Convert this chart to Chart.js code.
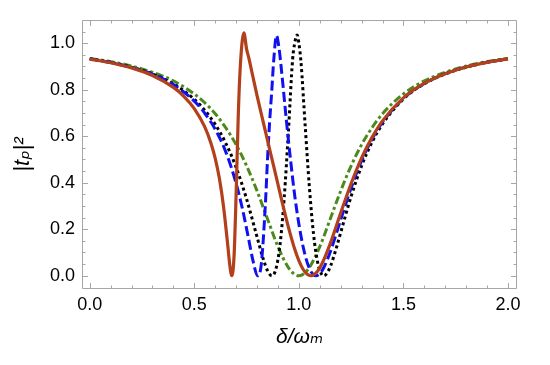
<!DOCTYPE html>
<html>
<head>
<meta charset="utf-8">
<script src="https://cdn.jsdelivr.net/npm/chart.js@4.4.1/dist/chart.umd.min.js"></script>
<style>
html,body{margin:0;padding:0;background:#fff;}
#wrap{width:550px;height:365px;}
</style>
</head>
<body>
<div id="wrap"><canvas id="c" width="550" height="365"></canvas></div>
<script>
// ---- data ----
const xTickLabels = [0.0, 0.5, 1.0, 1.5, 2.0];
const yTickLabels = [0.0, 0.2, 0.4, 0.6, 0.8, 1.0];

const greenX = [0,0.1,0.2,0.3,0.4,0.5,0.55,0.6,0.65,0.7,0.75,0.8,0.85,0.9,0.95,0.975,1.0,1.025,1.05,1.1,1.15,1.2,1.25,1.3,1.35,1.4,1.5,1.6,1.7,1.8,1.9,2.0];
const greenY = [0.935,0.921,0.902,0.875,0.838,0.782,0.744,0.697,0.637,0.564,0.473,0.365,0.244,0.125,0.035,0.009,0,0.009,0.035,0.125,0.244,0.365,0.473,0.564,0.637,0.697,0.782,0.838,0.875,0.902,0.921,0.935];

const blackX = [0,0.1,0.2,0.3,0.4,0.5,0.55,0.6,0.65,0.7,0.75,0.8,0.83,0.85,0.871,0.89,0.91,0.93,0.95,0.97,0.98,0.992,1.0,1.01,1.03,1.05,1.07,1.09,1.11,1.118,1.13,1.15,1.18,1.2,1.25,1.3,1.35,1.4,1.5,1.6,1.7,1.8,1.9,2.0];
const blackY = [0.933,0.918,0.897,0.868,0.825,0.759,0.712,0.651,0.571,0.466,0.330,0.167,0.071,0.022,0,0.028,0.134,0.337,0.620,0.93,1.00,1.036,1.00,0.92,0.647,0.384,0.180,0.057,0.004,0,0.006,0.039,0.122,0.186,0.342,0.473,0.575,0.653,0.760,0.826,0.868,0.897,0.918,0.933];

const blueX = [0,0.1,0.2,0.3,0.4,0.5,0.55,0.6,0.65,0.7,0.73,0.76,0.78,0.803,0.82,0.84,0.85,0.86,0.87,0.88,0.893,0.905,0.915,0.925,0.94,0.96,0.98,1.0,1.02,1.04,1.06,1.08,1.10,1.12,1.15,1.2,1.25,1.3,1.35,1.4,1.5,1.6,1.7,1.8,1.9,2.0];
const blueY = [0.933,0.917,0.896,0.867,0.822,0.751,0.699,0.630,0.534,0.397,0.288,0.157,0.067,0,0.047,0.31,0.50,0.66,0.79,0.93,1.033,0.98,0.90,0.81,0.67,0.50,0.346,0.223,0.126,0.0565,0.0149,0,0.0088,0.0364,0.1025,0.241,0.378,0.495,0.588,0.661,0.763,0.827,0.869,0.898,0.918,0.933];

const redX = [0,0.1,0.2,0.3,0.4,0.45,0.5,0.55,0.58,0.6,0.62,0.64,0.66,0.67,0.679,0.69,0.70,0.71,0.72,0.737,0.75,0.76,0.78,0.80,0.82,0.84,0.86,0.88,0.90,0.92,0.94,0.96,0.98,1.0,1.02,1.04,1.057,1.08,1.10,1.12,1.15,1.2,1.25,1.3,1.35,1.4,1.5,1.6,1.7,1.8,1.9,2.0];
const redY = [0.932,0.916,0.894,0.861,0.810,0.772,0.719,0.640,0.569,0.505,0.418,0.296,0.131,0.044,0,0.083,0.352,0.683,0.901,1.045,0.975,0.939,0.857,0.775,0.697,0.621,0.545,0.469,0.393,0.317,0.244,0.176,0.115,0.065,0.028,0.006,0,0.010,0.034,0.070,0.138,0.270,0.397,0.507,0.595,0.666,0.765,0.828,0.869,0.898,0.918,0.933];

function pts(xs, ys){ return xs.map((x,i)=>({x:x, y:ys[i]})); }

const FONT = "'Liberation Sans', Arial, 'DejaVu Sans', sans-serif";

const frameTicks = {
  id: 'frameTicks',
  afterDatasetsDraw(chart){
    const {ctx, chartArea:{left,right,top,bottom}, scales:{x,y}} = chart;
    ctx.save();
    ctx.strokeStyle = '#a6a6a6';
    ctx.lineWidth = 1;
    ctx.beginPath();
    ctx.rect(left+0.5, top+0.5, right-left-1, bottom-top-1);
    for (let i = 0; i <= 20; i++) {
      const v = i/10;
      const p = Math.round(x.getPixelForValue(v)) + 0.5;
      const L = (i % 5 === 0) ? 6 : 3.5;
      ctx.moveTo(p, bottom); ctx.lineTo(p, bottom - L);
      ctx.moveTo(p, top); ctx.lineTo(p, top + L);
    }
    for (let i = 0; i <= 21; i++) {
      const v = i*0.05;
      const p = Math.round(y.getPixelForValue(v)) + 0.5;
      const L = (i % 4 === 0) ? 6 : 3.5;
      ctx.moveTo(left, p); ctx.lineTo(left + L, p);
      ctx.moveTo(right, p); ctx.lineTo(right - L, p);
    }
    ctx.stroke();
    ctx.restore();
  }
};

new Chart(document.getElementById('c'), {
  type: 'line',
  data: {
    datasets: [
      {data: pts(redX, redY), borderColor: '#b2401b', borderWidth: 3.2, pointRadius: 0, cubicInterpolationMode: 'monotone', fill: false},
      {data: pts(blueX, blueY), borderColor: '#1010f0', borderWidth: 3, borderDash: [10,4], pointRadius: 0, cubicInterpolationMode: 'monotone', fill: false},
      {data: pts(blackX, blackY), borderColor: '#000000', borderWidth: 3, borderDash: [3,3], pointRadius: 0, cubicInterpolationMode: 'monotone', fill: false},
      {data: pts(greenX, greenY), borderColor: '#4b8b1b', borderWidth: 3, borderDash: [8,3,3,3], pointRadius: 0, cubicInterpolationMode: 'monotone', fill: false}
    ]
  },
  options: {
    responsive: false,
    animation: false,
    layout: {padding: {left: 0, right: 33, top: 20, bottom: 0}},
    plugins: {legend: {display: false}, tooltip: {enabled: false}},
    scales: {
      x: {
        type: 'linear', min: -0.037, max: 2.043,
        afterBuildTicks: s => { s.ticks = xTickLabels.map(v => ({value: v})); },
        afterFit: s => { s.height = 76; },
        grid: {display: false, drawTicks: false},
        border: {display: false},
        ticks: {callback: v => v.toFixed(1), color: '#000', padding: 5, maxRotation: 0, autoSkip: false, font: {family: FONT, size: 18}},
        title: {display: true, text: 'δ/ωₘ', color: '#000', padding: {top: 0, bottom: 15}, font: {family: FONT, size: 21, style: 'italic'}}
      },
      y: {
        type: 'linear', min: -0.057, max: 1.10,
        afterBuildTicks: s => { s.ticks = yTickLabels.map(v => ({value: v})); },
        afterFit: s => { s.width = 82; },
        grid: {display: false, drawTicks: false},
        border: {display: false},
        ticks: {callback: v => v.toFixed(1), color: '#000', padding: 7, autoSkip: false, font: {family: FONT, size: 18}},
        title: {display: true, text: '|tₚ|²', color: '#000', padding: {top: 10, bottom: 0}, font: {family: FONT, size: 22, style: 'italic'}}
      }
    }
  },
  plugins: [frameTicks]
});
</script>
</body>
</html>
